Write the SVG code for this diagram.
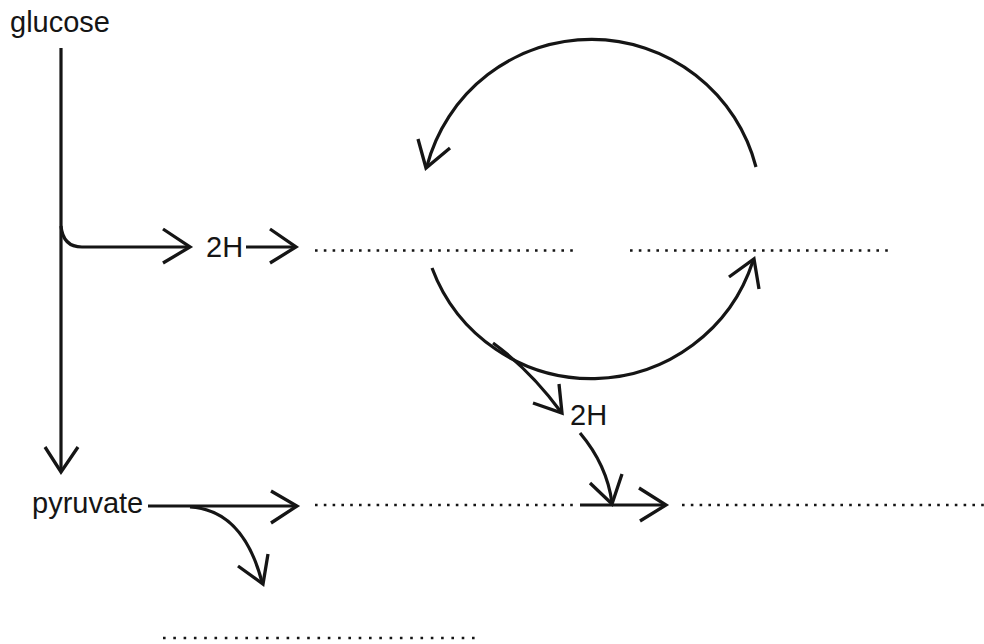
<svg xmlns="http://www.w3.org/2000/svg" width="984" height="644" viewBox="0 0 984 644">
<style>
.lbl{font-family:"Liberation Sans",Arial,sans-serif;font-size:29px;fill:#151515}
.ln{fill:none;stroke:#151515;stroke-width:3.2;stroke-linecap:butt;stroke-linejoin:miter}
.hd{fill:none;stroke:#151515;stroke-width:3.3;stroke-linecap:butt;stroke-linejoin:miter}
.dot{fill:none;stroke:#151515;stroke-width:2.6;stroke-dasharray:2.6 6.2}
.dot2{fill:none;stroke:#151515;stroke-width:2.6;stroke-dasharray:2.6 7.7}
</style>
<rect width="984" height="644" fill="#ffffff"/>
<g id="glucose"><text class="lbl" x="10" y="32">glucose</text></g>
<g id="pyruvate"><text class="lbl" x="32" y="513">pyruvate</text></g>
<g id="h2-a"><text class="lbl" x="206" y="257">2H</text></g>
<g id="h2-b"><text class="lbl" x="570" y="425">2H</text></g>
<g id="blank-1"><line class="dot" x1="315" y1="250.5" x2="573" y2="250.5"/></g>
<g id="blank-2"><line class="dot" x1="630" y1="250.5" x2="888" y2="250.5"/></g>
<g id="blank-3"><line class="dot" x1="315" y1="505" x2="573" y2="505"/></g>
<g id="blank-4"><line class="dot" x1="682" y1="505" x2="984" y2="505"/></g>
<g id="blank-5"><line class="dot2" x1="163" y1="638" x2="476" y2="638"/></g>
<g id="connectors">
<path class="ln" d="M61 48 L61 472"/>
<polyline class="hd" points="45,447 61,472 78,447"/>
<path class="ln" d="M61 226 Q63 247 82 247 L190 247"/>
<polyline class="hd" points="163,229 190,247 163,263"/>
<path class="ln" d="M246 247 L296 247"/>
<polyline class="hd" points="270,229 296,247 270,263"/>
<path class="ln" d="M756 167 A170 170 0 0 0 427 166"/>
<polyline class="hd" points="418,139 426,168 450,148"/>
<path class="ln" d="M432 268 A170 170 0 0 0 753 261"/>
<polyline class="hd" points="729,277 754,259 759,289"/>
<path class="ln" d="M493 343 Q530 370 561 412"/>
<polyline class="hd" points="533,403 562,413 559,384"/>
<path class="ln" d="M580 433 Q607 465 612 503"/>
<polyline class="hd" points="590,483 612,504 622,474"/>
<path class="ln" d="M580 505 L665 505"/>
<polyline class="hd" points="639,488 666,505 640,521"/>
<path class="ln" d="M148 506 L296 506"/>
<polyline class="hd" points="271,491 297,506 271,523"/>
<path class="ln" d="M190 507 Q243 510 262 582"/>
<polyline class="hd" points="238,566 263,584 268,554"/>
</g>
</svg>
